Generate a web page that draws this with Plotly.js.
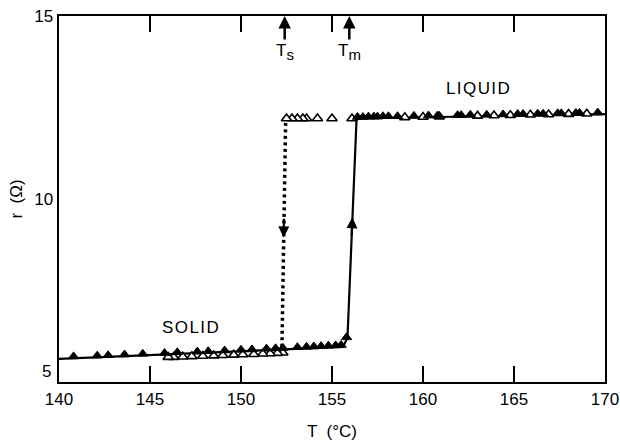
<!DOCTYPE html>
<html><head><meta charset="utf-8">
<script src="https://cdn.plot.ly/plotly-3.0.1.min.js"></script>
<style>html,body{margin:0;padding:0;background:#fff;}#chart{width:620px;height:441px;}</style>
</head><body><div id="chart"></div>
<script>
// Heating curve (solid line)
const heatLineT = [140, 155.6, 155.85, 156.35, 170];
const heatLineR = [5.63, 5.96, 6.2, 12.2, 12.32];
// Cooling drop (dotted line)
const coolLineT = [152.45, 152.25];
const coolLineR = [12.08, 5.95];

// Heating data (filled triangles)
const heatSolidT = [140.8, 142.1, 142.7, 143.6, 144.6, 145.8, 146.5, 147.6, 148.2, 149.1, 150.0, 150.6, 151.4, 151.9, 152.3, 153.1, 153.6, 154.0, 154.4, 154.8, 155.2, 155.5, 155.8];
const heatSolidR = [5.70, 5.72, 5.73, 5.75, 5.77, 5.79, 5.81, 5.83, 5.84, 5.86, 5.88, 5.89, 5.91, 5.92, 5.93, 5.95, 5.96, 5.97, 5.98, 5.99, 6.00, 6.01, 6.22];
const heatLiquidT = [156.4, 156.7, 157.0, 157.3, 157.5, 157.8, 158.1, 158.6, 159.5, 160.3, 160.8, 161.9, 162.1, 162.6, 163.5, 164.4, 165.2, 165.5, 166.3, 166.6, 167.4, 167.6, 168.4, 168.6, 169.6];
const heatLiquidR = [12.24, 12.24, 12.25, 12.25, 12.25, 12.26, 12.26, 12.26, 12.27, 12.28, 12.28, 12.29, 12.29, 12.30, 12.30, 12.31, 12.32, 12.32, 12.33, 12.33, 12.34, 12.34, 12.35, 12.35, 12.36];

// Cooling data (open triangles)
const coolLiquidT = [169.0, 168.0, 166.9, 165.9, 164.8, 163.9, 163.0, 160.9, 160.0, 159.0, 156.1, 155.0, 154.2, 153.6, 153.4, 153.1, 152.8, 152.5];
const coolLiquidR = [12.33, 12.32, 12.31, 12.30, 12.29, 12.28, 12.27, 12.25, 12.24, 12.23, 12.20, 12.20, 12.20, 12.20, 12.20, 12.20, 12.20, 12.20];
const coolSolidT = [152.3, 152.0, 151.6, 151.2, 150.7, 150.1, 149.6, 149.0, 148.5, 147.9, 147.3, 146.8, 146.3, 146.0];
const coolSolidR = [5.80, 5.79, 5.78, 5.77, 5.76, 5.75, 5.74, 5.73, 5.72, 5.71, 5.70, 5.69, 5.68, 5.68];

const xTicks = [140, 145, 150, 155, 160, 165, 170];
const yTicks = [10, 15];

const FONT = 'Liberation Sans, Arial, Helvetica, sans-serif';
const HS = '\u200A';

const traces = [
  {x: heatLineT, y: heatLineR, mode: 'lines', line: {color: '#000', width: 2.2}, hoverinfo: 'skip'},
  {x: coolLineT, y: coolLineR, mode: 'lines', line: {color: '#000', width: 3.5, dash: '3px,3.5px'}, hoverinfo: 'skip'},
  {x: coolSolidT.concat(coolLiquidT), y: coolSolidR.concat(coolLiquidR), mode: 'markers',
   marker: {symbol: 'triangle-up', size: 9, color: '#fff', line: {color: '#000', width: 1.6}}},
  {x: heatSolidT.concat(heatLiquidT), y: heatSolidR.concat(heatLiquidR), mode: 'markers',
   marker: {symbol: 'triangle-up', size: 9, color: '#000', line: {color: '#000', width: 1}}}
];

const layout = {
  width: 620, height: 441,
  margin: {l: 59, r: 15, t: 16, b: 59},
  paper_bgcolor: '#fff', plot_bgcolor: '#fff',
  showlegend: false,
  font: {family: FONT, color: '#000', size: 17},
  xaxis: {
    range: [140, 170], tickvals: xTicks, ticktext: xTicks.map(String),
    ticks: 'inside', ticklen: 16, tickwidth: 1.6, tickcolor: '#000',
    showline: true, linecolor: '#000', linewidth: 2.4, mirror: 'ticks',
    showgrid: false, zeroline: false,
    tickfont: {size: 17, family: FONT},
    title: {text: 'T  (°C)', font: {size: 17, family: FONT}, standoff: 18}
  },
  yaxis: {
    range: [5, 15], tickvals: yTicks, ticktext: yTicks.map(String),
    ticks: '', showline: true, linecolor: '#000', linewidth: 2.4, mirror: true,
    showgrid: false, zeroline: false,
    tickfont: {size: 17, family: FONT},
    title: {text: 'r  (Ω)', font: {size: 17, family: FONT}, standoff: 8}
  },
  annotations: [
    {x: 0, y: 5.3, xref: 'paper', yref: 'y', xanchor: 'right', xshift: -6, text: '5', showarrow: false,
     font: {size: 17, family: FONT}},
    {x: 152.4, y: 15, xref: 'x', yref: 'y', text: 'T<sub><span style="font-size:15px">s</span></sub>', showarrow: true,
     arrowhead: 2, arrowsize: 1, arrowwidth: 2.5, arrowcolor: '#000', ax: 0, ay: 36,
     font: {size: 17, family: FONT}},
    {x: 155.95, y: 15, xref: 'x', yref: 'y', text: 'T<sub><span style="font-size:15px">m</span></sub>', showarrow: true,
     arrowhead: 2, arrowsize: 1, arrowwidth: 2.5, arrowcolor: '#000', ax: 0, ay: 36,
     font: {size: 17, family: FONT}},
    {x: 152.34, y: 8.95, xref: 'x', yref: 'y', axref: 'x', ayref: 'y', ax: 152.36, ay: 9.5,
     text: '', showarrow: true, arrowhead: 2, arrowsize: 1, arrowwidth: 2.2, arrowcolor: '#000'},
    {x: 156.12, y: 9.5, xref: 'x', yref: 'y', axref: 'x', ayref: 'y', ax: 156.08, ay: 8.95,
     text: '', showarrow: true, arrowhead: 2, arrowsize: 1, arrowwidth: 2.2, arrowcolor: '#000'},
    {x: 147.2, y: 6.5, xref: 'x', yref: 'y', text: ['S','O','L','I','D'].join(HS), showarrow: false,
     font: {size: 17, family: FONT}},
    {x: 163.0, y: 13.03, xref: 'x', yref: 'y', text: ['L','I','Q','U','I','D'].join(HS), showarrow: false,
     font: {size: 17, family: FONT}}
  ]
};

Plotly.newPlot('chart', traces, layout, {staticPlot: true, displayModeBar: false});
</script>
</body></html>
